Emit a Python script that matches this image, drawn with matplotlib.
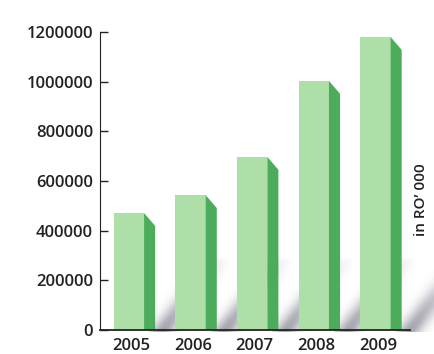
import numpy as np
import matplotlib
matplotlib.use("Agg")
import matplotlib.pyplot as plt
from matplotlib.patches import Polygon

plt.rcParams['font.family'] = ['Open Sans', 'DejaVu Sans']

# --------------- data --------------- #
years = ['2005', '2006', '2007', '2008', '2009']
values = [471000, 543000, 697000, 1003000, 1180000]
y_ticks = [0, 200000, 400000, 600000, 800000, 1000000, 1200000]
unit_label = 'in RO\u2019 000'

FRONT = '#afdfa8'
SIDE = '#4dab5c'
TEXT = '#222222'

# --------------- figure --------------- #
fig = plt.figure(figsize=(4.34, 3.54), dpi=100)
ax = fig.add_axes([100 / 434, 24 / 354, 310 / 434, 298 / 354])

x = np.arange(len(years))
bar_w = 0.49
depth_x = 0.18       # side face width (data units)
depth_y = 52000      # slope of the side face top

# soft diagonal shadow behind each bar (grey, fading upwards and at the edges)
sh_h = 290000
sh_w = 1.3
ny, nx = 120, 120
uu, tt = np.meshgrid(np.linspace(0, sh_w, nx), np.linspace(1, 0, ny))  # row 0 = top
centre = 0.2 + 0.9 * tt
alpha = np.exp(-((uu - centre) / 0.2) ** 2) * (1 - tt) ** 0.7 * 0.8
rgba = np.zeros((ny, nx, 4))
rgba[..., 0] = 0.55
rgba[..., 1] = 0.55
rgba[..., 2] = 0.6
rgba[..., 3] = alpha
for xi in x:
    x0 = xi + bar_w / 2 + depth_x
    im = ax.imshow(rgba, origin='upper',
                   extent=(x0 - 0.1, x0 - 0.1 + sh_w, -8000, sh_h),
                   aspect='auto', zorder=1, interpolation='bilinear')
    im.set_clip_box(fig.bbox)

# front faces
ax.bar(x, values, width=bar_w, color=FRONT, zorder=3)

# side faces
for xi, v in zip(x, values):
    xr = xi + bar_w / 2
    side = Polygon([(xr, v), (xr + depth_x, v - depth_y),
                    (xr + depth_x, 0), (xr, 0)],
                   closed=True, facecolor=SIDE, edgecolor='none', zorder=3)
    ax.add_patch(side)

ax.set_xlim(-0.47, 4.56)
ax.set_ylim(0, 1200000)
ax.set_yticks(y_ticks)
ax.set_yticklabels([str(t) for t in y_ticks], fontsize=12,
                   fontweight='semibold', color=TEXT)
ax.set_xticks(x + 0.04)
ax.set_xticklabels(years, fontsize=12, fontweight='semibold', color=TEXT)
ax.tick_params(axis='y', direction='in', length=6, width=1, pad=5, colors=TEXT)
ax.tick_params(axis='x', length=0, pad=6)

ax.spines['top'].set_visible(False)
ax.spines['right'].set_visible(False)
ax.spines['left'].set_color(TEXT)
ax.spines['bottom'].set_color(TEXT)
ax.spines['bottom'].set_linewidth(1.3)
ax.spines['bottom'].set_zorder(4)
ax.set_facecolor('none')

fig.text(421 / 434, 1 - 200 / 354, unit_label, rotation=90, ha='center',
         va='center', fontsize=11, fontweight='semibold', color=TEXT)

fig.savefig('out.png', dpi=100)
